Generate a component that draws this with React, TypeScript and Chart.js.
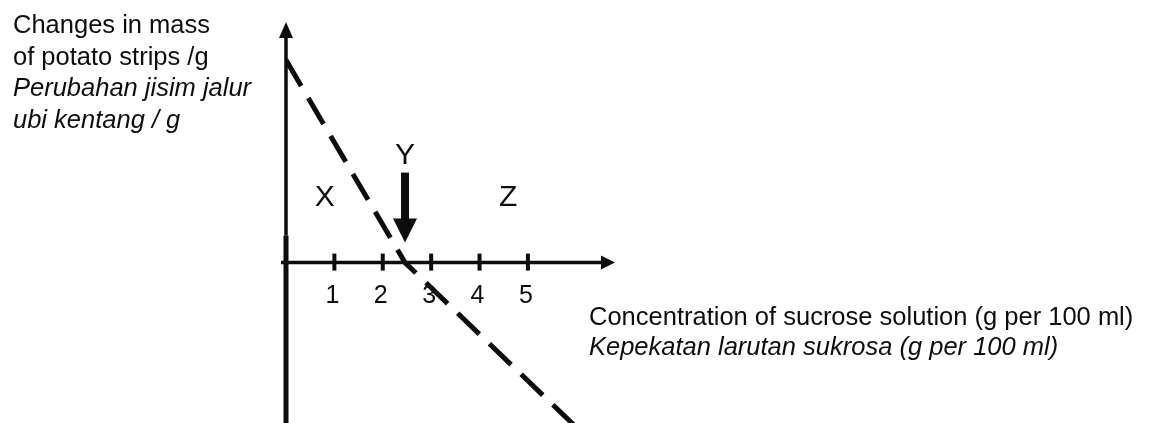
import React, { useEffect, useRef } from 'react';
import { Chart, registerables } from 'chart.js';

Chart.register(...registerables);

// Sketch of mass change of potato strips against sucrose concentration.
const concentration = [0, 2.46, 5.95];
const massChange = [5.05, 0, -4.05];

const tickValues = [1, 2, 3, 4, 5];
const tickLabels = ['1', '2', '3', '4', '5'];

const yTitleLines = [
  'Changes in mass',
  'of potato strips /g',
  'Perubahan jisim jalur',
  'ubi kentang / g',
];
const xTitleLines = [
  'Concentration of sucrose solution (g per 100 ml)',
  'Kepekatan larutan sukrosa (g per 100 ml)',
];

const regionNames = ['X', 'Y', 'Z'];

// Where the region letters sit, in axis units (x, baseline y).
const regionPlacement: [number, number][] = [
  [0.8, 1.42],
  [concentration[1], 2.47],
  [4.59, 1.42],
];

const INK = '#0d0d0d';
const FONT = '"Liberation Sans", Arial, sans-serif';

const sketchPlugin = {
  id: 'sketchAxes',
  afterDatasetsDraw(chart: any) {
    const { ctx } = chart;
    const xs = chart.scales.x;
    const ys = chart.scales.y;
    const x0 = xs.getPixelForValue(0);
    const y0 = ys.getPixelForValue(0);
    const yTop = ys.getPixelForValue(ys.max);
    const yBottom = ys.getPixelForValue(ys.min);
    const xRight = xs.getPixelForValue(xs.max);

    const seg = (ax: number, ay: number, bx: number, by: number) => {
      ctx.beginPath();
      ctx.moveTo(ax, ay);
      ctx.lineTo(bx, by);
      ctx.stroke();
    };
    const tri = (pts: number[][]) => {
      ctx.beginPath();
      ctx.moveTo(pts[0][0], pts[0][1]);
      for (let i = 1; i < pts.length; i++) ctx.lineTo(pts[i][0], pts[i][1]);
      ctx.closePath();
      ctx.fill();
    };

    ctx.save();
    ctx.strokeStyle = INK;
    ctx.fillStyle = INK;
    ctx.lineCap = 'butt';

    // vertical axis with arrowhead
    ctx.lineWidth = 3.5;
    seg(x0, yTop + 14, x0, y0 - 27);
    ctx.lineWidth = 5;
    seg(x0, y0 - 27, x0, yBottom);
    tri([[x0, yTop], [x0 - 7, yTop + 16], [x0 + 7, yTop + 16]]);

    // horizontal axis with arrowhead
    ctx.lineWidth = 3.5;
    seg(x0 - 5, y0, xRight - 12, y0);
    tri([[xRight, y0], [xRight - 14, y0 - 7], [xRight - 14, y0 + 7]]);

    // tick marks and labels
    ctx.lineWidth = 4;
    ctx.font = `25px ${FONT}`;
    ctx.textAlign = 'center';
    ctx.textBaseline = 'alphabetic';
    tickValues.forEach((v, i) => {
      const px = xs.getPixelForValue(v);
      seg(px, y0 - 9, px, y0 + 8);
      ctx.fillText(tickLabels[i], px - 2, y0 + 40);
    });

    // region letters
    ctx.font = `30px ${FONT}`;
    regionNames.forEach((name, i) => {
      const [vx, vy] = regionPlacement[i];
      ctx.fillText(name, xs.getPixelForValue(vx), ys.getPixelForValue(vy));
    });

    // arrow pointing down at the zero crossing
    const cx = xs.getPixelForValue(concentration[1]);
    ctx.fillRect(cx - 4, y0 - 90, 8, 47);
    tri([[cx - 12, y0 - 44], [cx + 12, y0 - 44], [cx, y0 - 20]]);

    // axis titles
    ctx.textAlign = 'left';
    yTitleLines.forEach((line, i) => {
      ctx.font = `${i >= 2 ? 'italic ' : ''}25.5px ${FONT}`;
      ctx.fillText(line, 13, 33 + i * 31.5);
    });
    xTitleLines.forEach((line, i) => {
      ctx.font = `${i >= 1 ? 'italic ' : ''}25.5px ${FONT}`;
      ctx.fillText(line, xRight - 26, y0 + 62 + i * 30);
    });

    ctx.restore();
  },
};

export default function App() {
  const canvasRef = useRef<HTMLCanvasElement | null>(null);

  useEffect(() => {
    const canvas = canvasRef.current;
    if (!canvas) return;
    const chart = new Chart(canvas, {
      type: 'line',
      data: {
        datasets: [
          {
            data: concentration.map((c, i) => ({ x: c, y: massChange[i] })),
            borderColor: INK,
            borderWidth: 5,
            borderDash: [30, 14],
            borderDashOffset: 0,
            pointRadius: 0,
            tension: 0,
            fill: false,
          },
        ],
      },
      options: {
        animation: false,
        responsive: false,
        devicePixelRatio: 1,
        layout: { padding: { left: 286, right: 537, top: 22, bottom: 0 } },
        plugins: { legend: { display: false }, tooltip: { enabled: false }, title: { display: false } },
        scales: {
          x: { type: 'linear', min: 0, max: 6.8, display: false },
          y: { type: 'linear', min: -4, max: 6, display: false },
        },
      },
      plugins: [sketchPlugin],
    });
    return () => chart.destroy();
  }, []);

  return (
    <div style={{ position: 'absolute', left: 0, top: 0, width: 1152, height: 423, background: '#fff' }}>
      <canvas ref={canvasRef} width={1152} height={423} style={{ display: 'block' }} />
    </div>
  );
}
